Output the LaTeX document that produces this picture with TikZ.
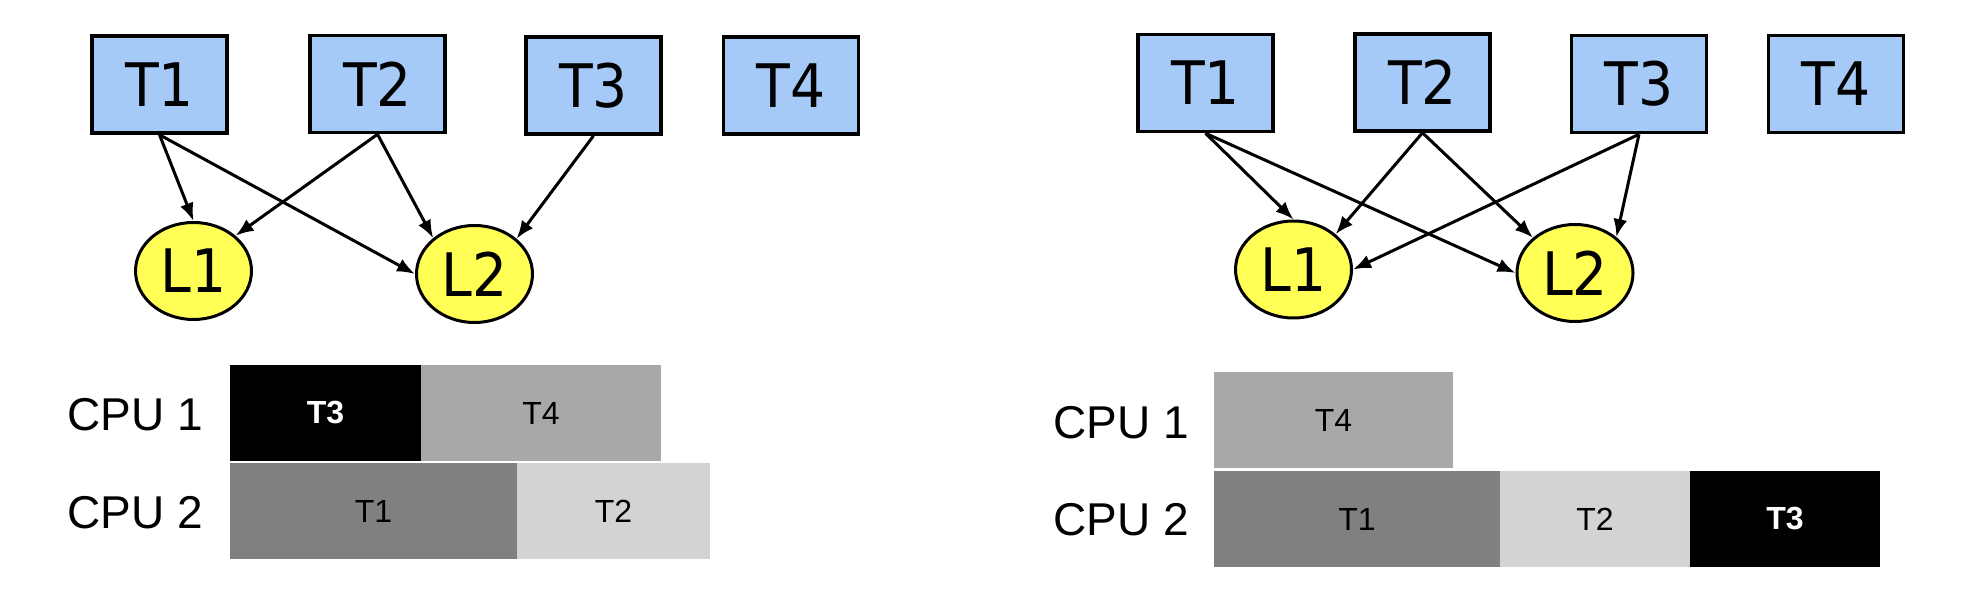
\documentclass[tikz,border=0pt]{standalone}
\usepackage{fontspec}
\setmainfont{Liberation Sans}
\newfontfamily\boxfont{DejaVu Sans}
\usetikzlibrary{shapes.geometric,arrows.meta}
\definecolor{tblue}{RGB}{166,202,247}
\definecolor{lyellow}{RGB}{255,255,85}
\definecolor{gTfour}{RGB}{168,168,168}
\definecolor{gTone}{RGB}{128,128,128}
\definecolor{gTtwo}{RGB}{211,211,211}
\newcommand{\nlbl}[1]{\scalebox{0.92}[1]{#1}}
\begin{document}
\begin{tikzpicture}[x=0.5pt,y=-0.5pt,
 tbox/.style={draw=black, line width=1.8pt, fill=tblue, minimum width=67.5pt, minimum height=48.5pt, inner sep=0pt, font=\boxfont\fontsize{30}{36}\selectfont},
 lock/.style={ellipse, draw=black, line width=1.5pt, fill=lyellow, minimum width=58pt, minimum height=48.5pt, inner sep=0pt, font=\boxfont\fontsize{30}{36}\selectfont},
 edge/.style={-{Latex[length=9pt,width=7pt]}, line width=1.5pt},
 gbar/.style={minimum height=48pt, inner sep=0pt, font=\fontsize{16}{19}\selectfont},
 dbar/.style={gbar, fill=black, text=white, font=\bfseries\fontsize{16}{19}\selectfont},
 cpu/.style={anchor=west, inner sep=0pt, font=\fontsize{23}{28}\selectfont}]
\useasboundingbox (0,0) rectangle (1976,614);
% ---------- left panel ----------
\node[tbox] (lT1) at (159.5,84.5) {\nlbl{T1}};
\node[tbox] (lT2) at (377.5,84) {\nlbl{T2}};
\node[tbox] (lT3) at (593.5,85.5) {\nlbl{T3}};
\node[tbox] (lT4) at (791,85.5) {\nlbl{T4}};
\node[lock] (lL1) at (193.5,271) {\nlbl{L1}};
\node[lock] (lL2) at (474.5,274) {\nlbl{L2}};
\draw[edge] (lT1.south) -- (lL1.90);
\draw[edge] (lT1.south) -- (lL2.180);
\draw[edge] (lT2.south) -- (lL1.40);
\draw[edge] (lT2.south) -- (lL2.139);
\draw[edge] (lT3.south) -- (lL2.40);
\node[cpu] (lc1) at (67,415) {CPU 1};
\node[cpu] (lc2) at (67,513) {CPU 2};
\node[dbar, minimum width=95.5pt] (lg3) at (325.5,413) {T3};
\node[gbar, fill=gTfour, minimum width=120pt] (lg4) at (541,413) {T4};
\node[gbar, fill=gTone, minimum width=143.5pt] (lg1) at (373.5,511) {T1};
\node[gbar, fill=gTtwo, minimum width=96.5pt] (lg2) at (613.5,511) {T2};
% ---------- right panel ----------
\node[tbox] (rT1) at (1205.5,83) {\nlbl{T1}};
\node[tbox] (rT2) at (1422.5,82.5) {\nlbl{T2}};
\node[tbox] (rT3) at (1639,84) {\nlbl{T3}};
\node[tbox] (rT4) at (1836,84) {\nlbl{T4}};
\node[lock] (rL1) at (1293.5,269.5) {\nlbl{L1}};
\node[lock] (rL2) at (1575,273) {\nlbl{L2}};
\draw[edge] (rT1.south) -- (rL1.90);
\draw[edge] (rT1.south) -- (rL2.180);
\draw[edge] (rT2.south) -- (rL1.40);
\draw[edge] (rT2.south) -- (rL2.140);
\draw[edge] (rT3.south) -- (rL1.0);
\draw[edge] (rT3.south) -- (rL2.41);
\node[cpu] (rc1) at (1053,423) {CPU 1};
\node[cpu] (rc2) at (1053,520) {CPU 2};
\node[gbar, fill=gTfour, minimum width=119.5pt] (rg4) at (1333.5,420) {T4};
\node[gbar, fill=gTone, minimum width=143pt] (rg1) at (1357,519) {T1};
\node[gbar, fill=gTtwo, minimum width=95pt] (rg2) at (1595,519) {T2};
\node[dbar, minimum width=95pt] (rg3) at (1785,519) {T3};
\end{tikzpicture}
\end{document}
